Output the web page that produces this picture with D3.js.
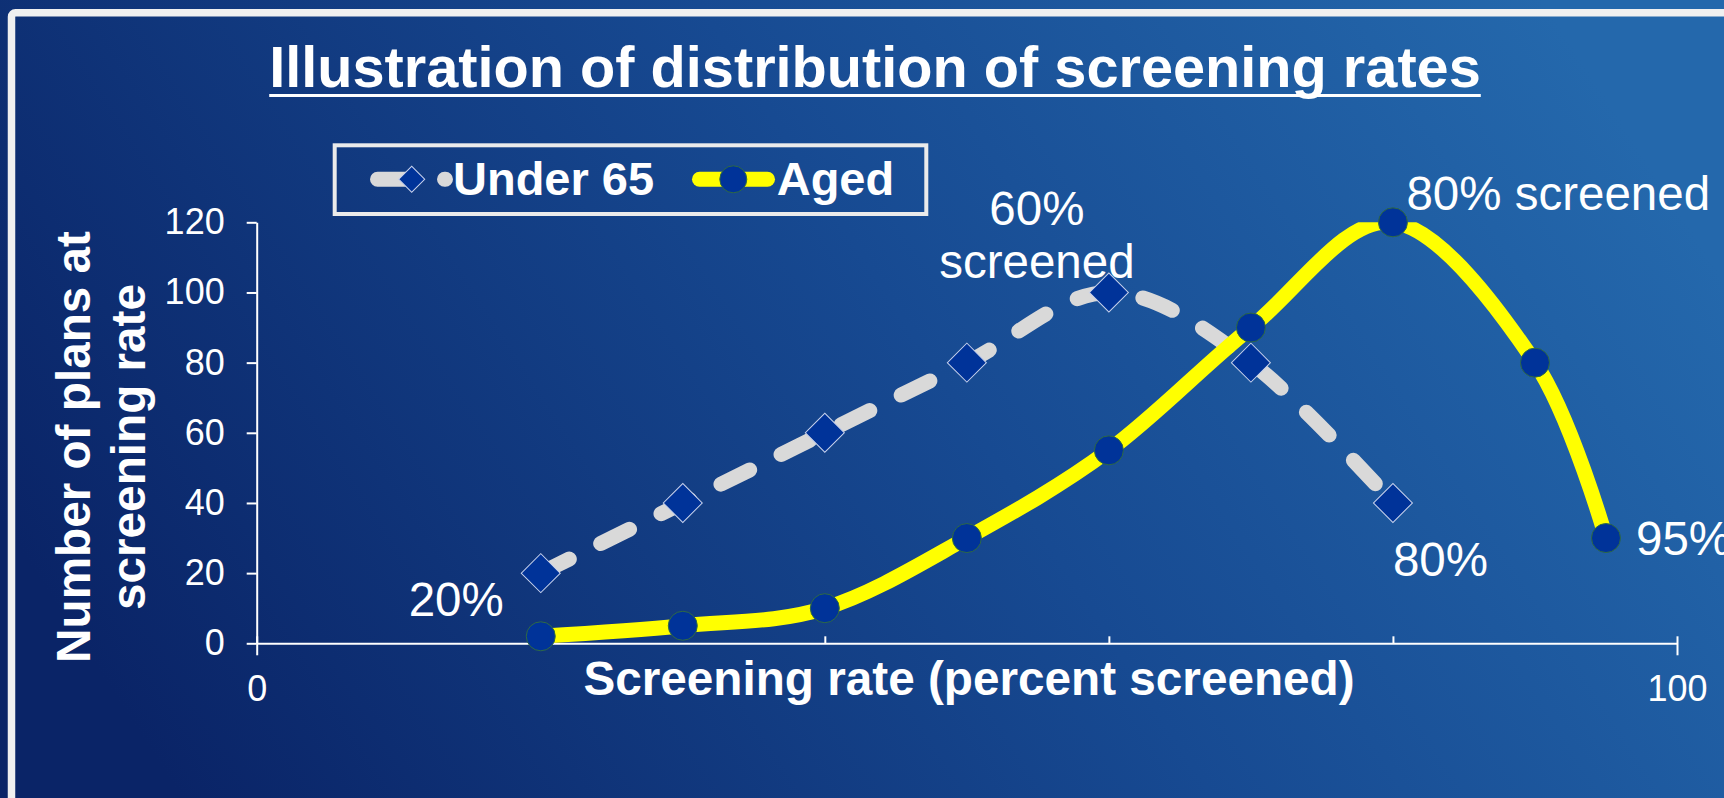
<!DOCTYPE html>
<html>
<head>
<meta charset="utf-8">
<script src="https://cdn.jsdelivr.net/npm/d3@7"></script>
<style>
  body { margin: 0; overflow: hidden; background: #0c2a6e; }
  text { font-family: "Liberation Sans", Arial, sans-serif; fill: #ffffff; }
</style>
</head>
<body>
<svg id="chart"></svg>
<script>
// chart values
var screening_rate = [20, 30, 40, 50, 60, 70, 80, 90, 95];
var under65_plans = [20, 40, 60, 80, 100, 80, 40];
var aged_plans = [2, 5, 10, 30, 55, 90, 120, 80, 30];
var y_tick_values = [0, 20, 40, 60, 80, 100, 120];
var x_label_values = [0, 100];
var x_minor_values = [20, 40, 60, 80];
var series_names = ["Under 65", "Aged"];
var title_text = "Illustration of distribution of screening rates";
var x_title_text = "Screening rate (percent screened)";
var y_title_lines = ["Number of plans at", "screening rate"];
// point labels: text lines, series, screening rate the label belongs to
var label_texts = [["20%"], ["60%", "screened"], ["80%"], ["80% screened"], ["95%"]];
var label_series = ["Under 65", "Under 65", "Under 65", "Aged", "Aged"];
var label_rates = [20, 60, 80, 80, 95];

var width = 1724, height = 798;

var under65_data = under65_plans.map(function(v, i) { return { rate: screening_rate[i], plans: v }; });
var aged_data = aged_plans.map(function(v, i) { return { rate: screening_rate[i], plans: v }; });

var svg = d3.select("#chart")
  .attr("width", width)
  .attr("height", height);

// background gradient
var defs = svg.append("defs");
var grad = defs.append("linearGradient")
  .attr("id", "bg_grad")
  .attr("x1", 0).attr("y1", 0.65)
  .attr("x2", 1).attr("y2", 0.35);
grad.append("stop").attr("offset", "0%").attr("stop-color", "#0a2467");
grad.append("stop").attr("offset", "55%").attr("stop-color", "#174a92");
grad.append("stop").attr("offset", "100%").attr("stop-color", "#2468ac");

svg.append("rect")
  .attr("width", width)
  .attr("height", height)
  .attr("fill", "url(#bg_grad)");

// light frame (runs off right and bottom edges)
svg.append("rect")
  .attr("x", 11.5)
  .attr("y", 12.8)
  .attr("width", width + 100)
  .attr("height", height + 100)
  .attr("rx", 4)
  .attr("fill", "none")
  .attr("stroke", "#f0f0f0")
  .attr("stroke-width", 7.5);

// scales
var x = d3.scaleLinear().domain([0, 100]).range([256.7, 1677]);
var y = d3.scaleLinear().domain([0, 120]).range([643.3, 222.3]);

defs.append("clipPath")
  .attr("id", "plot_clip")
  .append("rect")
  .attr("x", x(0))
  .attr("y", y(120))
  .attr("width", x(100) - x(0))
  .attr("height", y(0) - y(120));

// title
var title = svg.append("text")
  .attr("x", 875)
  .attr("y", 87)
  .attr("text-anchor", "middle")
  .style("font-size", "57.7px")
  .style("font-weight", "bold")
  .text(title_text);
var tb = title.node().getBBox();
svg.append("rect")
  .attr("x", tb.x)
  .attr("y", 94)
  .attr("width", tb.width)
  .attr("height", 3)
  .attr("fill", "#ffffff");

// y axis
var yAxis = svg.append("g")
  .attr("transform", "translate(" + x(0) + ",0)")
  .call(d3.axisLeft(y).tickValues(y_tick_values).tickSizeInner(10).tickSizeOuter(0).tickPadding(22));
yAxis.selectAll("text").style("font-size", "36px").attr("fill", "#ffffff");

// x axis, labels only at 0 and 100
var xAxis = svg.append("g")
  .attr("transform", "translate(0," + y(0) + ")")
  .call(d3.axisBottom(x).tickValues(x_label_values).tickSizeInner(12).tickSizeOuter(0).tickPadding(20));
xAxis.selectAll("text").style("font-size", "36px").attr("fill", "#ffffff");
xAxis.selectAll(".tick line").attr("y1", -7);

// x minor ticks, inside
svg.append("g")
  .attr("transform", "translate(0," + y(0) + ")")
  .call(d3.axisBottom(x).tickValues(x_minor_values).tickSizeInner(-7).tickSizeOuter(0).tickFormat(""))
  .select(".domain").remove();

svg.selectAll(".domain, .tick line")
  .attr("stroke", "#ffffff")
  .attr("stroke-width", 2);

// axis titles
svg.append("text")
  .attr("x", 969)
  .attr("y", 695)
  .attr("text-anchor", "middle")
  .style("font-size", "47.7px")
  .style("font-weight", "bold")
  .text(x_title_text);

svg.selectAll(".y_title")
  .data(y_title_lines)
  .enter()
  .append("text")
  .attr("class", "y_title")
  .attr("transform", function(d, i) { return "translate(" + (90 + i * 55.4) + ",447) rotate(-90)"; })
  .attr("text-anchor", "middle")
  .style("font-size", "47.7px")
  .style("font-weight", "bold")
  .text(function(d) { return d; });

// lines (Excel style smoothing)
var smooth_line = d3.line()
  .x(function(d) { return x(d.rate); })
  .y(function(d) { return y(d.plans); })
  .curve(d3.curveCardinal.tension(0));

svg.append("path")
  .datum(under65_data)
  .attr("d", smooth_line)
  .attr("fill", "none")
  .attr("stroke", "#d9d9d9")
  .attr("stroke-width", 15)
  .attr("stroke-linecap", "round")
  .attr("stroke-linejoin", "round")
  .attr("stroke-dasharray", "32,35");

svg.append("path")
  .datum(aged_data)
  .attr("d", smooth_line)
  .attr("clip-path", "url(#plot_clip)")
  .attr("fill", "none")
  .attr("stroke", "#ffff00")
  .attr("stroke-width", 15)
  .attr("stroke-linecap", "round")
  .attr("stroke-linejoin", "round");

// markers
var diamond = d3.symbol().type(d3.symbolSquare).size(761);
var diamond_small = d3.symbol().type(d3.symbolSquare).size(338);

svg.selectAll(".u65_marker")
  .data(under65_data)
  .enter()
  .append("path")
  .attr("class", "u65_marker")
  .attr("d", diamond)
  .attr("transform", function(d) { return "translate(" + x(d.rate) + "," + y(d.plans) + ") rotate(45)"; })
  .attr("fill", "#003399")
  .attr("stroke", "#c8d2ec")
  .attr("stroke-width", 1);

svg.selectAll(".aged_marker")
  .data(aged_data)
  .enter()
  .append("circle")
  .attr("class", "aged_marker")
  .attr("cx", function(d) { return x(d.rate); })
  .attr("cy", function(d) { return y(d.plans); })
  .attr("r", 14.5)
  .attr("fill", "#003399")
  .attr("stroke", "#2f6a44")
  .attr("stroke-width", 1);

// point labels
var label_offsets = [
  { dx: -37, dy: 43, anchor: "end" },
  { dx: -72, dy: -67.5, anchor: "middle" },
  { dx: 0, dy: 73, anchor: "start" },
  { dx: 13.5, dy: -12, anchor: "start" },
  { dx: 30, dy: 17, anchor: "start" }
];

label_texts.forEach(function(lines, i) {
  var values = label_series[i] === "Aged" ? aged_data : under65_data;
  var pt = values.filter(function(d) { return d.rate === label_rates[i]; })[0];
  var off = label_offsets[i];
  var t = svg.append("text")
    .attr("x", x(pt.rate) + off.dx)
    .attr("y", y(pt.plans) + off.dy)
    .attr("text-anchor", off.anchor)
    .style("font-size", "47.5px");
  lines.forEach(function(line, j) {
    t.append("tspan")
      .attr("x", x(pt.rate) + off.dx)
      .attr("dy", j === 0 ? 0 : 53)
      .text(line);
  });
});

// legend
var legend = svg.append("g");
legend.append("rect")
  .attr("x", 334.7)
  .attr("y", 145.3)
  .attr("width", 591.6)
  .attr("height", 68.7)
  .attr("fill", "none")
  .attr("stroke", "#ebebeb")
  .attr("stroke-width", 4);

var legend_y = 179.3;
legend.append("line")
  .attr("x1", 377.5).attr("x2", 445.5)
  .attr("y1", legend_y).attr("y2", legend_y)
  .attr("stroke", "#d9d9d9")
  .attr("stroke-width", 15)
  .attr("stroke-linecap", "round")
  .attr("stroke-dasharray", "32,35");
legend.append("path")
  .attr("d", diamond_small)
  .attr("transform", "translate(411.7," + legend_y + ") rotate(45)")
  .attr("fill", "#003399")
  .attr("stroke", "#c8d2ec")
  .attr("stroke-width", 1);
legend.append("text")
  .attr("x", 453)
  .attr("y", 195)
  .style("font-size", "47px")
  .style("font-weight", "bold")
  .text(series_names[0]);

legend.append("line")
  .attr("x1", 699.5).attr("x2", 767.5)
  .attr("y1", legend_y).attr("y2", legend_y)
  .attr("stroke", "#ffff00")
  .attr("stroke-width", 15)
  .attr("stroke-linecap", "round");
legend.append("circle")
  .attr("cx", 733.3)
  .attr("cy", legend_y)
  .attr("r", 13.5)
  .attr("fill", "#003399")
  .attr("stroke", "#2f6a44")
  .attr("stroke-width", 1);
legend.append("text")
  .attr("x", 776.7)
  .attr("y", 195)
  .style("font-size", "47px")
  .style("font-weight", "bold")
  .text(series_names[1]);
</script>
</body>
</html>
